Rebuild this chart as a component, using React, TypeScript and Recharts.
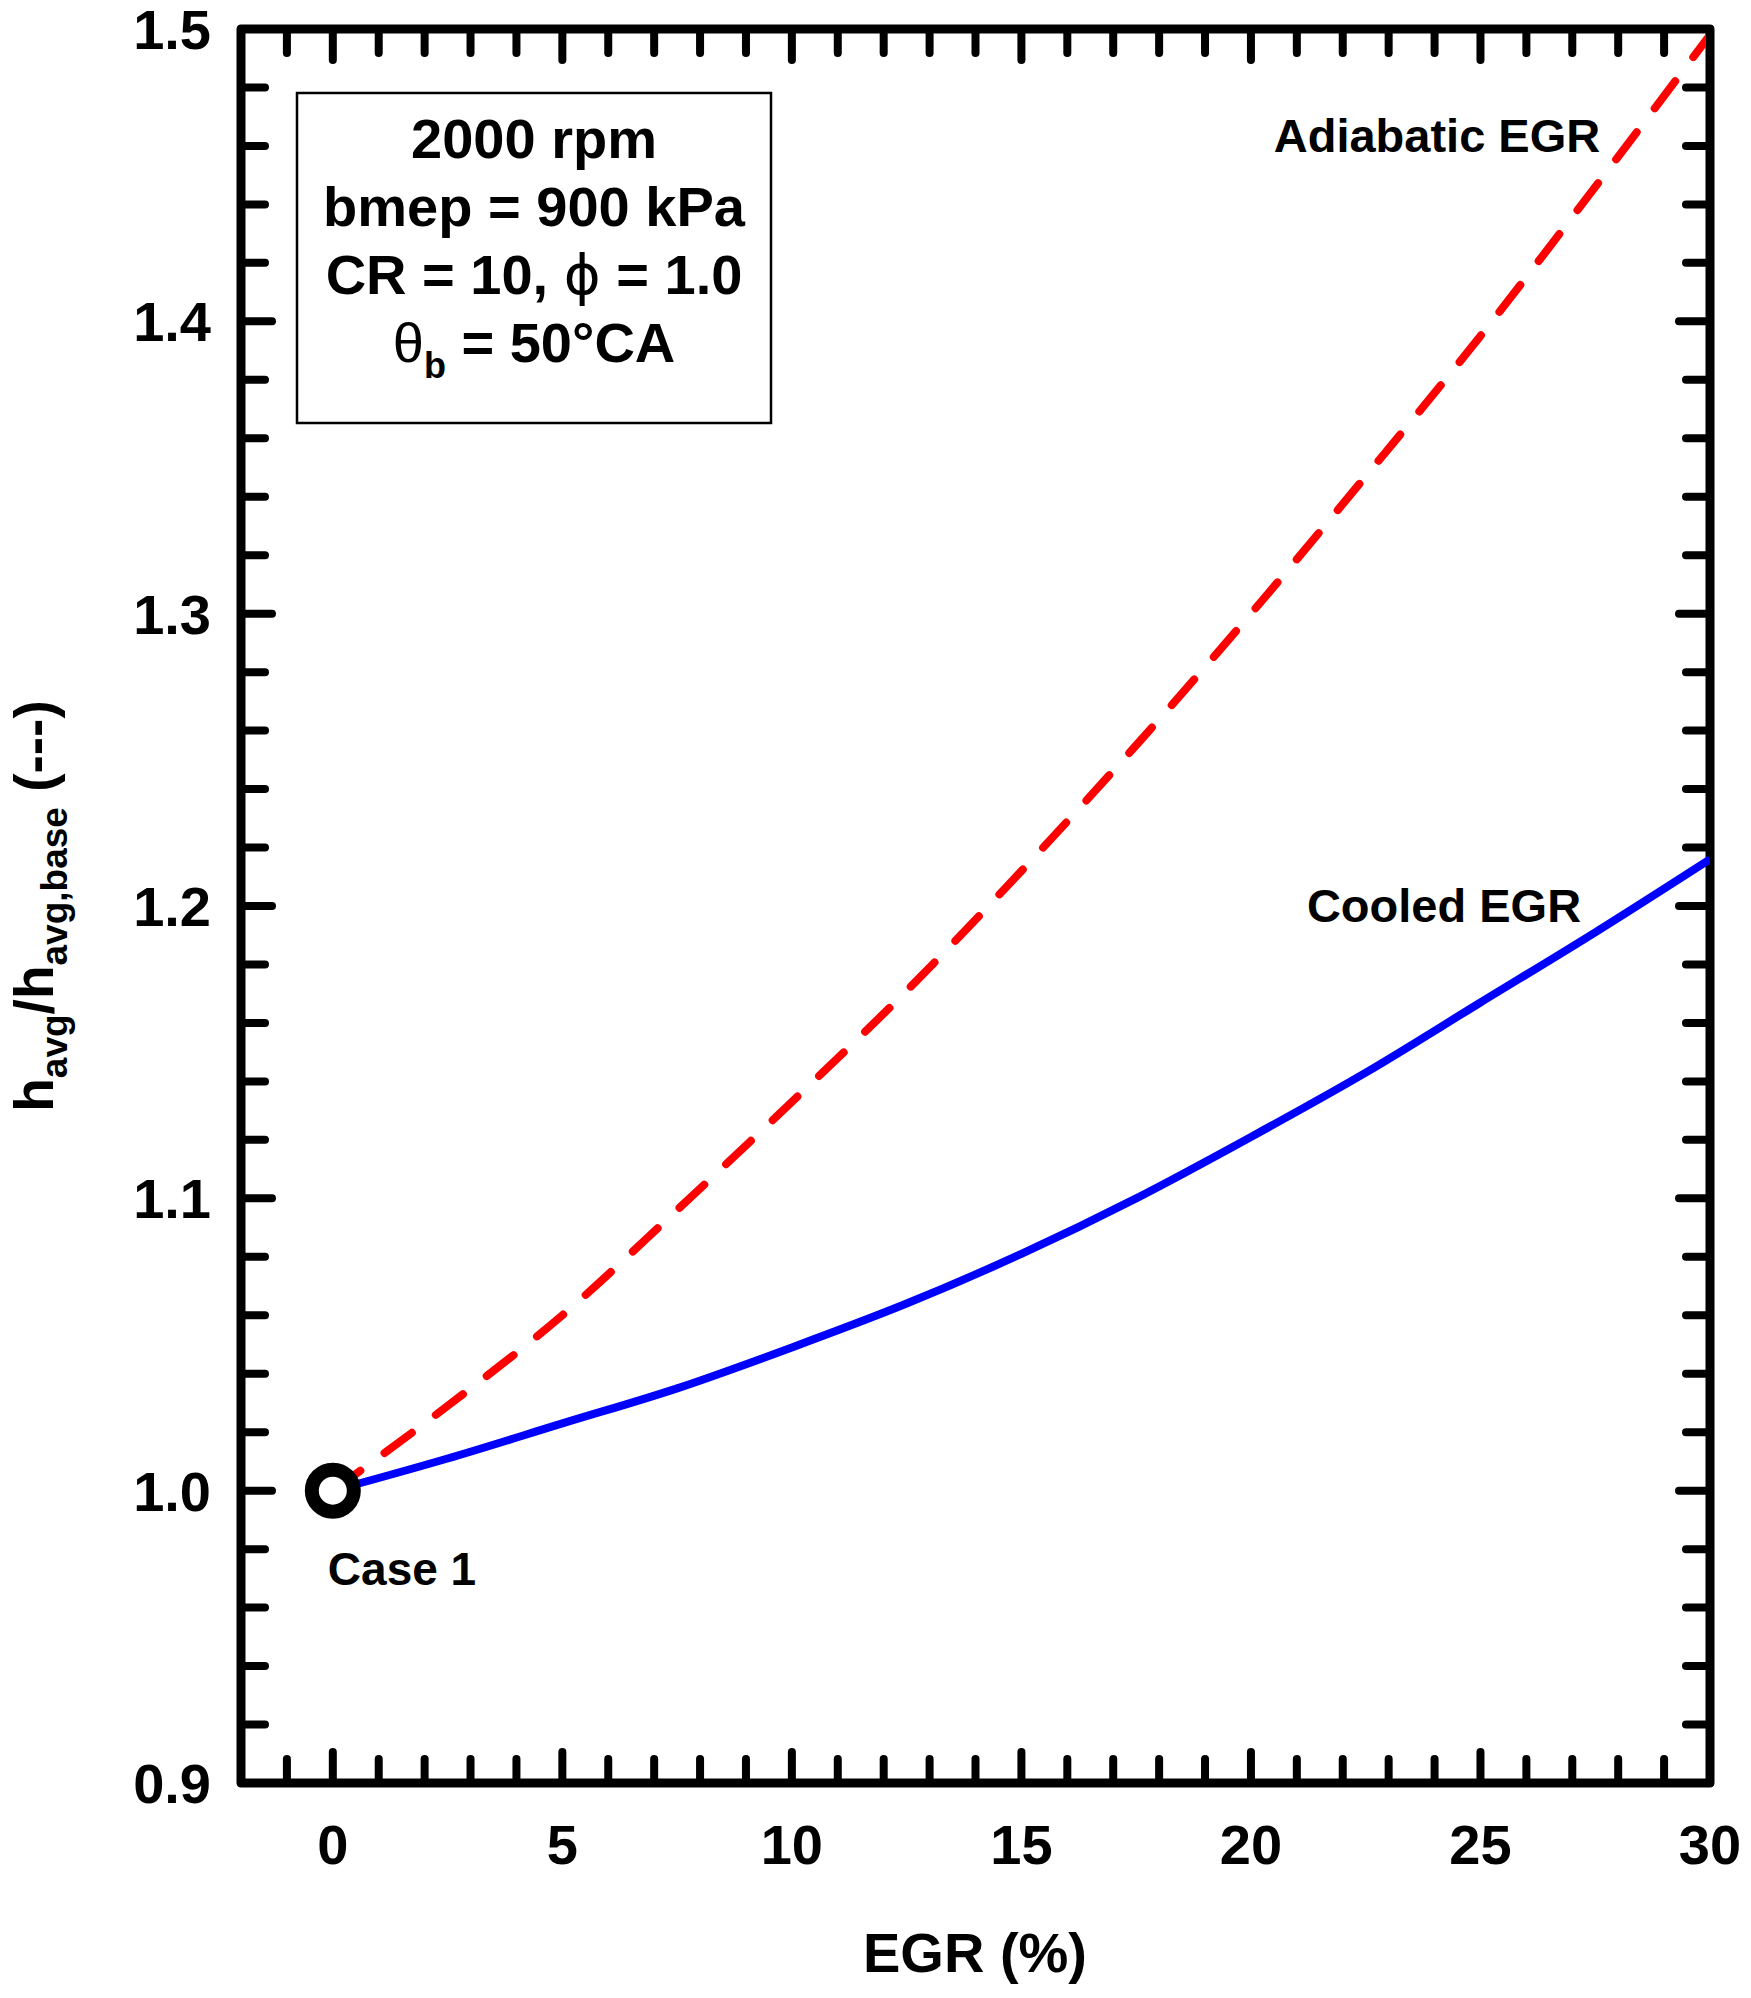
import React from "react";
import { ComposedChart, Line, XAxis, YAxis, ReferenceArea, ReferenceDot } from "recharts";

// ---- data ----
const egr = [0, 2.5, 5, 7.5, 10, 12.5, 15, 17.5, 20, 22.5, 25, 27.5, 30];
const cooledEGR = [1.0, 1.011, 1.023, 1.035, 1.049, 1.064, 1.081, 1.1, 1.121, 1.143, 1.167, 1.191, 1.216];
const adiabaticEGR = [1.0, 1.029, 1.06, 1.096, 1.133, 1.171, 1.212, 1.255, 1.3, 1.347, 1.395, 1.446, 1.498];
const caseX = [0];
const caseY = [1.0];

const xDomain = [-2, 30];
const yDomain = [0.9, 1.5];
const xMajorTicks = [0, 5, 10, 15, 20, 25, 30];
const xAllTicks = [-1, 0, 1, 2, 3, 4, 5, 6, 7, 8, 9, 10, 11, 12, 13, 14, 15, 16, 17, 18, 19, 20, 21, 22, 23, 24, 25, 26, 27, 28, 29, 30];
const yMajorTicks = [0.9, 1.0, 1.1, 1.2, 1.3, 1.4, 1.5];
const yAllTicks = [0.9, 0.92, 0.94, 0.96, 0.98, 1.0, 1.02, 1.04, 1.06, 1.08, 1.1, 1.12, 1.14, 1.16, 1.18, 1.2, 1.22, 1.24, 1.26, 1.28, 1.3, 1.32, 1.34, 1.36, 1.38, 1.4, 1.42, 1.44, 1.46, 1.48, 1.5];

const rows = egr.map((e, i) => ({ egr: e, cooled: cooledEGR[i], adiabatic: adiabaticEGR[i] }));

const FONT = '"Liberation Sans", Arial, sans-serif';
const isMajor = (v: number, list: number[]) => list.some((m) => Math.abs(m - v) < 1e-6);
const MAJ = 31;
const MIN = 24;
const TW = 8;

const BottomTick = (props: any) => {
  const { x, y, payload } = props;
  const v = payload.value;
  const major = isMajor(v, xMajorTicks);
  return (
    <g>
      <line x1={x} x2={x} y1={y} y2={y - (major ? MAJ : MIN)} stroke="#000" strokeWidth={TW} strokeLinecap="round" />
      {major && (
        <text x={x} y={y + 81} textAnchor="middle" fontFamily={FONT} fontWeight="bold" fontSize={56} fill="#000">
          {String(v)}
        </text>
      )}
    </g>
  );
};

const TopTick = (props: any) => {
  const { x, y, payload } = props;
  const major = isMajor(payload.value, xMajorTicks);
  return <line x1={x} x2={x} y1={y} y2={y + (major ? MAJ : MIN)} stroke="#000" strokeWidth={TW} strokeLinecap="round" />;
};

const LeftTick = (props: any) => {
  const { x, y, payload } = props;
  const v = payload.value;
  const major = isMajor(v, yMajorTicks);
  return (
    <g>
      <line x1={x} x2={x + (major ? MAJ : MIN)} y1={y} y2={y} stroke="#000" strokeWidth={TW} strokeLinecap="round" />
      {major && (
        <text x={x - 30} y={y + 20} textAnchor="end" fontFamily={FONT} fontWeight="bold" fontSize={56} fill="#000">
          {v.toFixed(1)}
        </text>
      )}
    </g>
  );
};

const RightTick = (props: any) => {
  const { x, y, payload } = props;
  const major = isMajor(payload.value, yMajorTicks);
  return <line x1={x} x2={x - (major ? MAJ : MIN)} y1={y} y2={y} stroke="#000" strokeWidth={TW} strokeLinecap="round" />;
};

export default function App() {
  return (
    <div style={{ position: "absolute", left: 0, top: 0, width: 1751, height: 1998, background: "#fff" }}>
      <ComposedChart width={1751} height={1998} data={rows} margin={{ top: 0, right: 0, bottom: 0, left: 0 }}>
        <XAxis xAxisId="b" dataKey="egr" type="number" domain={xDomain} allowDataOverflow ticks={xAllTicks}
          interval={0} orientation="bottom" height={215} tickSize={0} tickMargin={0} axisLine={false} tickLine={false} tick={BottomTick} />
        <XAxis xAxisId="t" dataKey="egr" type="number" domain={xDomain} allowDataOverflow ticks={xAllTicks}
          interval={0} orientation="top" height={29} tickSize={0} tickMargin={0} axisLine={false} tickLine={false} tick={TopTick} />
        <YAxis yAxisId="l" type="number" domain={yDomain} allowDataOverflow ticks={yAllTicks}
          interval={0} orientation="left" width={241} tickSize={0} tickMargin={0} axisLine={false} tickLine={false} tick={LeftTick} />
        <YAxis yAxisId="r" type="number" domain={yDomain} allowDataOverflow ticks={yAllTicks}
          interval={0} orientation="right" width={41} tickSize={0} tickMargin={0} axisLine={false} tickLine={false} tick={RightTick} />
        <ReferenceArea xAxisId="b" yAxisId="l" x1={xDomain[0]} x2={xDomain[1]} y1={yDomain[0]} y2={yDomain[1]}
          fill="none" fillOpacity={0} stroke="#000" strokeWidth={9} strokeLinejoin="round" ifOverflow="visible" />
        <Line xAxisId="b" yAxisId="l" type="monotone" dataKey="adiabatic" stroke="#ff0000" strokeWidth={8}
          strokeDasharray="34 30" strokeLinecap="round" dot={false} isAnimationActive={false} />
        <Line xAxisId="b" yAxisId="l" type="monotone" dataKey="cooled" stroke="#0000ff" strokeWidth={8}
          dot={false} isAnimationActive={false} />
        <ReferenceDot xAxisId="b" yAxisId="l" x={caseX[0]} y={caseY[0]} r={21} fill="#fff" stroke="#000" strokeWidth={14} ifOverflow="visible" />
      </ComposedChart>
      <svg width={1751} height={1998} style={{ position: "absolute", left: 0, top: 0, pointerEvents: "none" }}>
        <g fontFamily={FONT} fontWeight="bold" fill="#000">
          <rect x={297} y={93} width={474} height={330} fill="none" stroke="#000" strokeWidth={2.5} />
          <text x={534} y={158} textAnchor="middle" fontSize={56}>2000 rpm</text>
          <text x={534} y={226} textAnchor="middle" fontSize={56}>bmep = 900 kPa</text>
          <text x={534} y={294} textAnchor="middle" fontSize={56}>
            CR = 10, <tspan fontWeight="normal" fontFamily='"DejaVu Sans", sans-serif'>ϕ</tspan> = 1.0
          </text>
          <text x={534} y={362} textAnchor="middle" fontSize={56}>
            <tspan fontWeight="normal">θ</tspan>
            <tspan fontSize={36} dy={16}>b</tspan>
            <tspan dy={-16}> = 50°CA</tspan>
          </text>
          <text x={1437} y={152} textAnchor="middle" fontSize={47}>Adiabatic EGR</text>
          <text x={1444} y={922} textAnchor="middle" fontSize={47}>Cooled EGR</text>
          <text x={402} y={1585} textAnchor="middle" fontSize={46}>Case 1</text>
          <text x={975} y={1972} textAnchor="middle" fontSize={56}>EGR (%)</text>
          <text transform="translate(53,906) rotate(-90)" textAnchor="middle" fontSize={55}>
            h<tspan fontSize={37} dy={14}>avg</tspan>
            <tspan dy={-14}>/h</tspan>
            <tspan fontSize={37} dy={14}>avg,base</tspan>
            <tspan dy={-14}> (---)</tspan>
          </text>
        </g>
      </svg>
    </div>
  );
}
